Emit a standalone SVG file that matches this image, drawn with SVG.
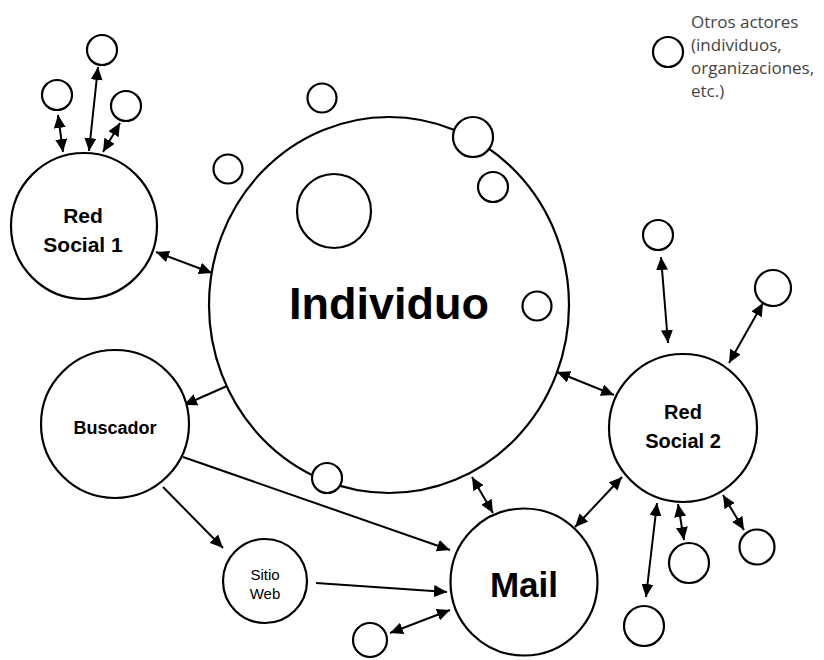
<svg xmlns="http://www.w3.org/2000/svg" width="824" height="660" viewBox="0 0 824 660">
<defs>
<marker id="ah" markerUnits="userSpaceOnUse" markerWidth="14" markerHeight="12" refX="13" refY="6" orient="auto-start-reverse" viewBox="0 0 14 12">
<path d="M0,0 L13,6 L0,12 z" fill="#000"/>
</marker>
</defs>
<style>
.n{fill:#fff;stroke:#000;stroke-width:2.2}
.c{fill:none;stroke:#000;stroke-width:2}
.bi{marker-start:url(#ah);marker-end:url(#ah)}
.uni{marker-end:url(#ah)}
.lb{font-family:"Liberation Sans",Arial,sans-serif;font-weight:bold;fill:#000;text-anchor:middle}
.lr{font-family:"Liberation Sans",Arial,sans-serif;fill:#000;text-anchor:middle}
.lg{font-family:"Open Sans","Noto Sans",sans-serif;fill:#444;font-size:17px}
</style>
<rect width="824" height="660" fill="#fff"/>
<g id="connectors">
<line class="c bi" x1="58" y1="115" x2="63" y2="152"/>
<line class="c bi" x1="98" y1="67" x2="89" y2="151"/>
<line class="c bi" x1="120" y1="123" x2="103" y2="152"/>
<line class="c bi" x1="156" y1="252" x2="212" y2="273"/>
<line class="c uni" x1="227" y1="386" x2="184" y2="405"/>
<line class="c uni" x1="183" y1="457" x2="450" y2="550"/>
<line class="c uni" x1="163" y1="487" x2="223" y2="548"/>
<line class="c uni" x1="316" y1="583" x2="447" y2="592"/>
<line class="c bi" x1="390" y1="633" x2="450" y2="610"/>
<line class="c bi" x1="472" y1="477" x2="493" y2="513"/>
<line class="c bi" x1="661" y1="257" x2="668" y2="343"/>
<line class="c bi" x1="763" y1="303" x2="729" y2="363"/>
<line class="c bi" x1="557" y1="372" x2="614" y2="395"/>
<line class="c bi" x1="622" y1="477" x2="575" y2="527"/>
<line class="c bi" x1="657" y1="503" x2="646" y2="597"/>
<line class="c bi" x1="678" y1="504" x2="684" y2="540"/>
<line class="c bi" x1="723" y1="495" x2="744" y2="530"/>
</g>
<g id="individuo">
<ellipse class="n" cx="389" cy="305" rx="180" ry="188"/>
<text class="lb" x="389" y="319" font-size="45">Individuo</text>
</g>
<g id="ind-inner-big"><circle class="n" cx="334" cy="211" r="37"/></g>
<g id="ind-top"><circle class="n" cx="322" cy="98" r="14.5"/></g>
<g id="ind-left"><circle class="n" cx="228" cy="169" r="14.5"/></g>
<g id="ind-topright"><circle class="n" cx="473" cy="137" r="20"/></g>
<g id="ind-right-small"><circle class="n" cx="493" cy="187" r="15"/></g>
<g id="ind-right"><circle class="n" cx="537" cy="306" r="14.5"/></g>
<g id="ind-bottom"><circle class="n" cx="327" cy="478" r="15"/></g>
<g id="red-social-1">
<circle class="n" cx="84" cy="226" r="73"/>
<text class="lb" x="83" y="223" font-size="21">Red</text>
<text class="lb" x="83" y="252" font-size="21">Social 1</text>
</g>
<g id="rs1-top"><circle class="n" cx="102" cy="50" r="15"/></g>
<g id="rs1-left"><circle class="n" cx="57" cy="95" r="15"/></g>
<g id="rs1-right"><circle class="n" cx="126" cy="106" r="15"/></g>
<g id="buscador">
<circle class="n" cx="115" cy="424" r="74"/>
<text class="lb" x="115" y="434" font-size="18">Buscador</text>
</g>
<g id="sitio-web">
<circle class="n" cx="265" cy="581" r="42"/>
<text class="lr" x="265" y="580" font-size="15">Sitio</text>
<text class="lr" x="265" y="599" font-size="15">Web</text>
</g>
<g id="mail">
<circle class="n" cx="524" cy="582" r="73.5"/>
<text class="lb" x="524" y="597" font-size="35">Mail</text>
</g>
<g id="mail-small"><circle class="n" cx="370" cy="640" r="17"/></g>
<g id="red-social-2">
<circle class="n" cx="683" cy="428" r="74"/>
<text class="lb" x="683" y="419" font-size="20">Red</text>
<text class="lb" x="683" y="448" font-size="20">Social 2</text>
</g>
<g id="rs2-top"><circle class="n" cx="658" cy="235" r="15"/></g>
<g id="rs2-topright"><circle class="n" cx="773" cy="288" r="18"/></g>
<g id="rs2-bottomright"><circle class="n" cx="757" cy="547" r="17.5"/></g>
<g id="rs2-bottommid"><circle class="n" cx="689" cy="563" r="20"/></g>
<g id="rs2-bottomleft"><circle class="n" cx="644" cy="626" r="20"/></g>
<g id="legend">
<circle class="n" cx="668" cy="52" r="15"/>
<text class="lg" x="691" y="28">Otros actores</text>
<text class="lg" x="691" y="51">(individuos,</text>
<text class="lg" x="691" y="74">organizaciones,</text>
<text class="lg" x="691" y="97">etc.)</text>
</g>
</svg>
